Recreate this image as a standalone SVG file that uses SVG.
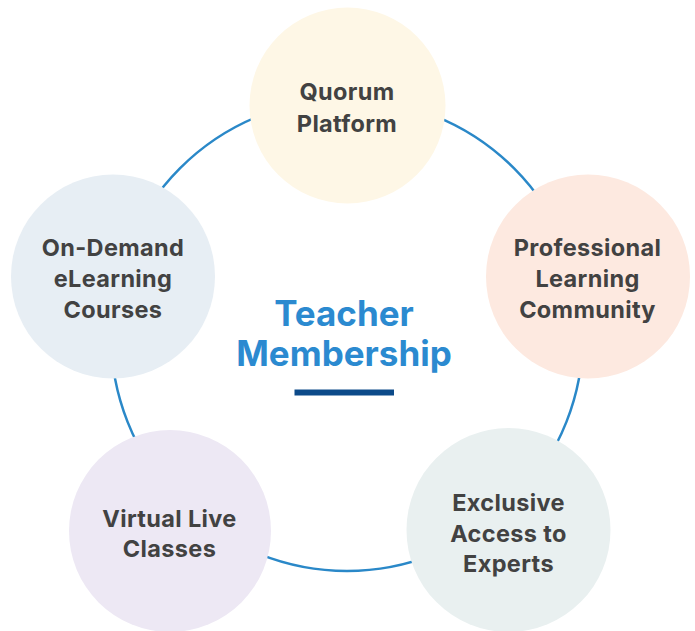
<svg xmlns="http://www.w3.org/2000/svg" width="695" height="631" viewBox="0 0 695 631">
<style>
.lbl{font-family:Inter,"Noto Sans","Liberation Sans",sans-serif;font-weight:700;font-size:23.5px;letter-spacing:0.35px;fill:#424242;text-anchor:middle}
.title{font-family:Inter,"Noto Sans","Liberation Sans",sans-serif;font-weight:700;font-size:35px;fill:#2b8ad0;text-anchor:middle}
.ring{fill:none;stroke:#2a88c8;stroke-width:2.5}
</style>
<rect width="695" height="631" fill="#ffffff"/>
<g id="connectors">
<circle class="ring" cx="347" cy="335" r="236"/>
</g>
<g id="node-quorum">
<circle cx="347.5" cy="105.5" r="98" fill="#fef7e6"/>
<text class="lbl" x="347" y="100">Quorum</text>
<text class="lbl" x="347" y="131.5">Platform</text>
</g>
<g id="node-professional">
<circle cx="588" cy="276.5" r="102" fill="#fde9e0"/>
<text class="lbl" x="587.5" y="256">Professional</text>
<text class="lbl" x="587.5" y="287">Learning</text>
<text class="lbl" x="587.5" y="317.5">Community</text>
</g>
<g id="node-exclusive">
<circle cx="508.5" cy="530" r="102" fill="#e9f0f0"/>
<text class="lbl" x="508.5" y="511">Exclusive</text>
<text class="lbl" x="508.5" y="542">Access to</text>
<text class="lbl" x="508.5" y="572">Experts</text>
</g>
<g id="node-virtual">
<circle cx="170" cy="531" r="101" fill="#ede8f4"/>
<text class="lbl" x="169.5" y="526.5">Virtual Live</text>
<text class="lbl" x="169.5" y="556.5">Classes</text>
</g>
<g id="node-ondemand">
<circle cx="113" cy="276.5" r="102" fill="#e7eef4"/>
<text class="lbl" x="113" y="256">On-Demand</text>
<text class="lbl" x="113" y="287">eLearning</text>
<text class="lbl" x="113" y="318">Courses</text>
</g>
<g id="center">
<text class="title" x="344" y="325.5">Teacher</text>
<text class="title" x="344" y="366">Membership</text>
<rect x="294.5" y="389.5" width="99.5" height="6" fill="#0c4a89"/>
</g>
</svg>
